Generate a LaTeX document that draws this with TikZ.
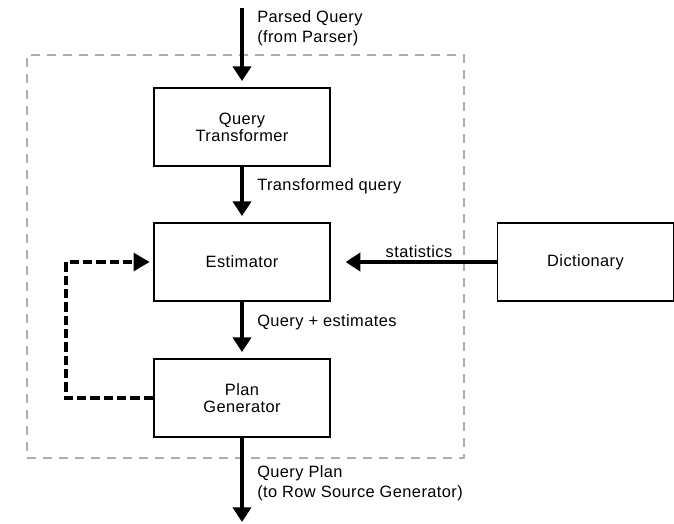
\documentclass[tikz,border=0pt]{standalone}
\usepackage{fontspec}
\setmainfont{Liberation Sans}[LetterSpace=2.5]
\usetikzlibrary{arrows.meta}
\begin{document}
\begin{tikzpicture}[x=0.75pt,y=-0.75pt,
  box/.style={draw=black,line width=1.4pt,minimum width=132pt,minimum height=58.5pt,inner sep=0pt,align=center,font=\fontsize{12.3}{12.75}\selectfont},
  flow/.style={line width=3.4pt,-{Triangle[length=11pt,width=13.5pt]},shorten >=4.5pt},
  fb/.style={line width=3pt,dash pattern=on 7pt off 3pt,-{Triangle[length=12pt,width=13pt]},shorten >=2.5pt},
  lbl/.style={font=\fontsize{12.3}{15}\selectfont,align=left,anchor=west,inner sep=0pt},
  region/.style={draw=black!32,line width=2.2pt,dash pattern=on 7pt off 5pt}]
\useasboundingbox (0,0) rectangle (674,524);
\node[region,minimum width=327.75pt,minimum height=302.25pt,inner sep=0pt] (reg) at (245.5,256.5) {};
\node[box] (qt) at (242,127) {Query\\Transformer};
\node[box] (est) at (242,262) {Estimator};
\node[box] (pg) at (242,398) {Plan\\Generator};
\node[box] (dict) at (585.5,262) {Dictionary};
\coordinate (in) at (242,8);
\coordinate (out) at (242,528);
\draw[flow] (in) -- (qt.north);
\draw[flow] (qt.south) -- (est.north);
\draw[flow] (est.south) -- (pg.north);
\draw[flow] (pg.south) -- (out);
\draw[flow,shorten >=11pt] (dict.west) -- (est.east);
\coordinate (fbl) at (66,0);
\draw[fb] (pg.west) -| (fbl |- est.west) -- (est.west);
\node[lbl] (l1) at (257,28) {Parsed Query\\(from Parser)};
\node[lbl] (l2) at (257,186) {Transformed query};
\node[lbl] (l3) at (257,322) {Query + estimates};
\node[lbl] (l4) at (257,483) {Query Plan\\(to Row Source Generator)};
\node[font=\fontsize{12.3}{15}\selectfont,inner sep=0pt] (l5) at (419,252) {statistics};
\end{tikzpicture}
\end{document}
